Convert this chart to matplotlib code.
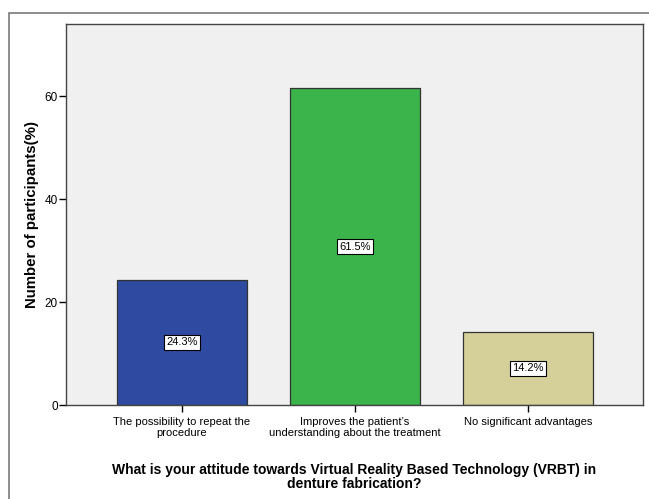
import matplotlib.pyplot as plt
from matplotlib.patches import Rectangle

plt.rcParams['font.family'] = ['Liberation Sans', 'DejaVu Sans']

answers = ['The possibility to repeat the\nprocedure',
           'Improves the patient\u2019s\nunderstanding about the treatment',
           'No significant advantages']
percent = [24.3, 61.5, 14.2]
colors = ['#2e4ba1', '#3bb54b', '#d5d099']
yticks = [0, 20, 40, 60]

fig = plt.figure(figsize=(6.49, 4.99), dpi=100)
# outer chart border (open on the right and bottom)
fig.patches.append(Rectangle((9 / 649, -0.05), 1.0, 1 - 13 / 499 + 0.05,
                             transform=fig.transFigure, fill=False,
                             edgecolor='#7a7a7a', linewidth=1.2))

ax = fig.add_axes([66 / 649, 94 / 499, 577 / 649, 381 / 499])
ax.set_facecolor('#f0f0f0')
x = range(len(percent))
ax.bar(x, percent, width=0.75, color=colors, edgecolor='#333333', linewidth=0.9)

for i, v in enumerate(percent):
    ax.text(i, v / 2, f'{v}%', ha='center', va='center', fontsize=8,
            bbox=dict(boxstyle='square,pad=0.2', facecolor='white',
                      edgecolor='black', linewidth=0.8))

ax.set_xlim(-0.67, 2.665)
ax.set_ylim(0, 74)
ax.set_yticks(yticks)
ax.set_xticks(list(x))
ax.set_xticklabels(answers, fontsize=8)
ax.tick_params(axis='y', labelsize=8.5, length=5, width=1, pad=1)
ax.tick_params(axis='x', length=5, width=1)
for s in ax.spines.values():
    s.set_color('#444444')
    s.set_linewidth(1)

ax.set_ylabel('Number of participants(%)', fontsize=10.8, fontweight='bold', labelpad=4)
ax.set_xlabel('What is your attitude towards Virtual Reality Based Technology (VRBT) in\ndenture fabrication?',
              fontsize=10, fontweight='bold', labelpad=18, linespacing=1.0)

fig.savefig('out.png', dpi=100)
